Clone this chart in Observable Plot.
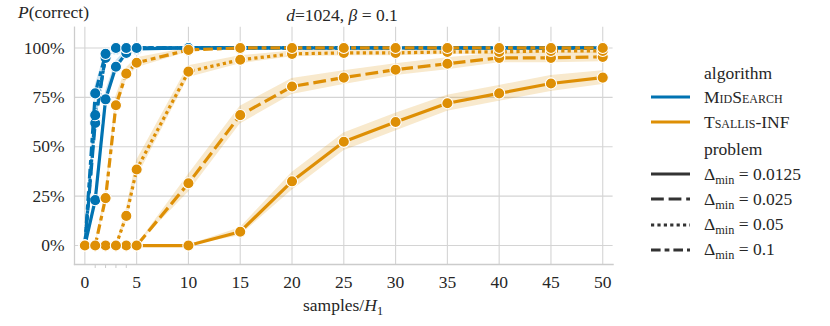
<!DOCTYPE html>
<html><head><meta charset="utf-8">
<script src="https://cdn.jsdelivr.net/npm/d3@7"></script>
<script src="https://cdn.jsdelivr.net/npm/@observablehq/plot@0.6"></script>
<style>
body{margin:0;background:#fff;}
#wrap{position:relative;width:830px;height:326px;font-family:"Liberation Serif","Times New Roman","DejaVu Serif",serif;color:#262626;overflow:hidden;}
#wrap svg{position:absolute;left:0;top:0;}
.lbl{position:absolute;white-space:nowrap;font-size:17.5px;line-height:1;}
.lbl sub{font-size:0.7em;vertical-align:-0.3em;line-height:0;}
.sc{font-variant:small-caps;}
.leg{position:absolute;left:651px;height:24px;display:flex;align-items:center;white-space:nowrap;font-size:17.5px;}
.leg svg{position:static!important;margin-right:14px;}
.leg .t{position:absolute;left:53px;}
.leg sub{font-size:0.7em;vertical-align:-0.35em;line-height:0;}
</style></head><body><div id="wrap"></div>
<script>
// ---- data ----
const samples = [0, 1, 2, 3, 4, 5, 10, 15, 20, 25, 30, 35, 40, 45, 50];
const algorithms = ["MidSearch", "Tsallis-INF"];
const problems = ["0.0125", "0.025", "0.05", "0.1"];
const yTicks = [0, 25, 50, 75, 100];
const xTicks = [0, 5, 10, 15, 20, 25, 30, 35, 40, 45, 50];
const xMinorTicks = [1, 2, 3, 4];

// P(correct) in %
const midsearch_00125 = [0, 23, 74, 90.5, 97.5, 99.5, 100, 100, 100, 100, 100, 100, 100, 100, 100];
const midsearch_0025  = [0, 62, 96, 99.5, 100, 100, 100, 100, 100, 100, 100, 100, 100, 100, 100];
const midsearch_005   = [0, 66, 95, 100, 100, 100, 100, 100, 100, 100, 100, 100, 100, 100, 100];
const midsearch_01    = [0, 77, 97, 100, 100, 100, 100, 100, 100, 100, 100, 100, 100, 100, 100];
const tsallis_00125 = [0, 0, 0, 0, 0, 0, 0, 7, 32.5, 52.5, 62.5, 72, 77, 82, 85];
const tsallis_0025  = [0, 0, 0, 0, 0, 0, 31.5, 66, 80.5, 85, 89, 92, 95, 95, 95.5];
const tsallis_005   = [0, 0, 0, 0, 15, 38.5, 88, 94, 97, 97.5, 97.5, 98, 98, 98.5, 98.5];
const tsallis_01    = [0, 0, 24, 71, 87, 92.5, 99, 100, 100, 100, 100, 100, 100, 100, 100];

// half-width of the shaded confidence band, in %
const midsearch_00125_ci = [0, 4, 4, 3, 1.5, 0.5, 0, 0, 0, 0, 0, 0, 0, 0, 0];
const midsearch_0025_ci  = [0, 4.5, 2, 0.5, 0, 0, 0, 0, 0, 0, 0, 0, 0, 0, 0];
const midsearch_005_ci   = [0, 4.5, 2, 0.3, 0, 0, 0, 0, 0, 0, 0, 0, 0, 0, 0];
const midsearch_01_ci    = [0, 4, 1.5, 0.3, 0, 0, 0, 0, 0, 0, 0, 0, 0, 0, 0];
const tsallis_00125_ci = [0, 0, 0, 0, 0, 0, 0.3, 2, 4.5, 4.5, 4.5, 4, 4, 4, 3.5];
const tsallis_0025_ci  = [0, 0, 0, 0, 0, 0, 4.5, 4.5, 4, 3.5, 3, 3, 2.5, 2.5, 2.5];
const tsallis_005_ci   = [0, 0, 0, 0, 3.5, 4.5, 3, 2, 1.5, 1.5, 1.5, 1.3, 1.3, 1.2, 1.2];
const tsallis_01_ci    = [0, 0, 4, 4.5, 3, 2.5, 1, 0.3, 0, 0, 0, 0, 0, 0, 0];

const series = {
  "MidSearch": [midsearch_00125, midsearch_0025, midsearch_005, midsearch_01],
  "Tsallis-INF": [tsallis_00125, tsallis_0025, tsallis_005, tsallis_01]
};
const bands = {
  "MidSearch": [midsearch_00125_ci, midsearch_0025_ci, midsearch_005_ci, midsearch_01_ci],
  "Tsallis-INF": [tsallis_00125_ci, tsallis_0025_ci, tsallis_005_ci, tsallis_01_ci]
};

const colors = ["#0173b2", "#de8f05"];
const LW = 3.2;
const dashes = [null, "12.8,4.8", "3.2,3.2", "9.6,4,4.8,4"];

const rows = [];
algorithms.forEach(a => problems.forEach((p, j) => samples.forEach((x, i) => {
  const v = series[a][j][i], h = bands[a][j][i];
  rows.push({alg: a, prob: p, key: a + p, x, y: v, lo: Math.max(0, v - h), hi: Math.min(100, v + h)});
})));

const FONT = '"Liberation Serif", "Times New Roman", "DejaVu Serif", serif';
const grid = "#d4d4d4";
const marks = [
  Plot.ruleX(xTicks, {stroke: grid, strokeWidth: 1.1}),
  Plot.ruleY(yTicks, {stroke: grid, strokeWidth: 1.1}),
  Plot.frame({anchor: "left", stroke: "#cccccc", strokeWidth: 1.3}),
  Plot.frame({anchor: "bottom", stroke: "#cccccc", strokeWidth: 1.3}),
  Plot.axisY({ticks: yTicks, tickFormat: d => d + "%", tickSize: 0, tickPadding: 10, label: null, fontSize: 17.5, fontFamily: FONT}),
  Plot.axisX({ticks: xTicks, tickSize: 0, tickPadding: 11, label: null, fontSize: 17.5, fontFamily: FONT}),
  Plot.axisX({ticks: xMinorTicks, tickSize: 4, tickFormat: () => "", label: null, stroke: "#cccccc"}),
  Plot.areaY(rows, {x: "x", y1: "lo", y2: "hi", z: "key", fill: "alg", fillOpacity: 0.2})
];
algorithms.forEach(a => problems.forEach((p, j) => {
  const g = rows.filter(r => r.alg === a && r.prob === p);
  marks.push(Plot.line(g, {x: "x", y: "y", stroke: "alg", strokeWidth: LW,
    strokeDasharray: dashes[j] || undefined, strokeLinecap: dashes[j] ? "butt" : "square", strokeLinejoin: "round"}));
  marks.push(Plot.dot(g, {x: "x", y: "y", r: 5.6, fill: "alg", stroke: "white", strokeWidth: 1.1}));
}));

const chart = Plot.plot({
  width: 830, height: 326,
  marginLeft: 74, marginRight: 217.4, marginTop: 26.7, marginBottom: 62,
  x: {domain: [-1, 51]},
  y: {domain: [-9.6, 110.5]},
  color: {domain: algorithms, range: colors},
  style: {fontFamily: FONT, color: "#262626", background: "white", overflow: "visible"},
  marks
});
const wrap = document.getElementById("wrap");
wrap.appendChild(chart);

function addLabel(html, cx, cy) {
  const d = document.createElement("div");
  d.className = "lbl"; d.innerHTML = html;
  d.style.left = cx + "px"; d.style.top = cy + "px";
  d.style.transform = "translate(-50%,-50%)";
  wrap.appendChild(d);
}
addLabel("<i>d</i>=1024, <i>β</i> = 0.1", 342, 16);
addLabel("<i>P</i>(correct)", 53.5, 13);
addLabel("samples/<i>H</i><sub>1</sub>", 343, 306);

function swatch(color, dash) {
  return `<svg width="39" height="8"><line x1="0" x2="39" y1="4" y2="4" stroke="${color}" stroke-width="${LW}" ${dash ? `stroke-dasharray="${dash}"` : ""}/></svg>`;
}
const legendRows = [
  {y: 73, html: "algorithm"},
  {y: 97, sw: swatch(colors[0]), html: `<span class="sc">MidSearch</span>`},
  {y: 122, sw: swatch(colors[1]), html: `<span class="sc">Tsallis</span>-INF`},
  {y: 149, html: "problem"},
  ...problems.map((p, j) => ({y: 174 + j * 25.3, sw: swatch("#333333", dashes[j]), html: `Δ<sub>min</sub> = ${p}`}))
];
legendRows.forEach(r => {
  const d = document.createElement("div");
  d.className = "leg"; d.style.top = (r.y - 12) + "px";
  d.innerHTML = (r.sw || "") + `<span class="t">${r.html}</span>`;
  wrap.appendChild(d);
});
</script></body></html>
